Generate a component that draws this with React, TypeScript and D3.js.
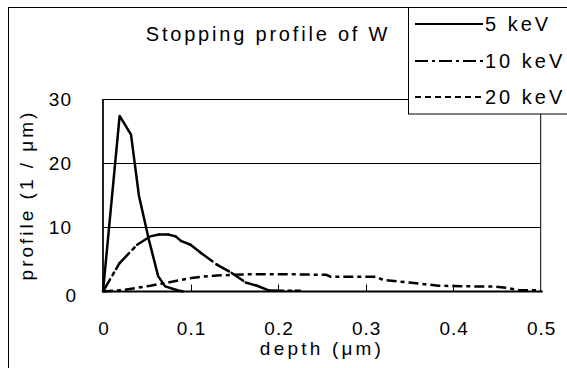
import React, { useRef, useEffect } from 'react';
import * as d3 from 'd3';

type Pt = [number, number];

// depth (um), profile (1/um)
const kev5: Pt[] = [
  [0, 0], [0.019, 27.4], [0.032, 24.5], [0.041, 15], [0.052, 8.3],
  [0.063, 2.4], [0.071, 0.8], [0.086, 0.15], [0.092, 0],
];
const kev10: Pt[] = [
  [0, 0], [0.0187, 4.4], [0.039, 7.3], [0.054, 8.6], [0.064, 8.9],
  [0.0745, 8.9], [0.083, 8.6], [0.089, 7.9], [0.1, 7.3], [0.112, 6.0],
  [0.13, 4.2], [0.147, 2.9], [0.163, 1.4], [0.176, 0.9], [0.19, 0.15],
  [0.225, 0.1],
];
const kev20: Pt[] = [
  [0, 0], [0.022, 0.2], [0.054, 0.9], [0.07, 1.3], [0.089, 1.8],
  [0.101, 2.1], [0.113, 2.3], [0.13, 2.5], [0.17, 2.7], [0.21, 2.7],
  [0.255, 2.6], [0.26, 2.3], [0.3, 2.3], [0.312, 2.3], [0.32, 1.8],
  [0.35, 1.4], [0.383, 0.9], [0.42, 0.8], [0.445, 0.8], [0.46, 0.6],
  [0.475, 0.2], [0.5, 0.2],
];

const xTicks = [0, 0.1, 0.2, 0.3, 0.4, 0.5];
const yTicks = [0, 10, 20, 30];
const legendItems = [
  { label: '5 keV', dash: 'none' },
  { label: '10 keV', dash: '13,4,3,4' },
  { label: '20 keV', dash: '6,4' },
];

const FONT = '"Liberation Sans", Arial, sans-serif';

export default function App() {
  const svgRef = useRef<SVGSVGElement>(null);
  const width = 567;
  const height = 368;

  useEffect(() => {
    if (!svgRef.current) return;
    const svg = d3.select(svgRef.current);
    svg.selectAll('*').remove();

    const x = d3.scaleLinear().domain([0, 0.5]).range([103, 540.7]);
    const y = d3.scaleLinear().domain([0, 30]).range([291.5, 99.3]);

    // outer frame
    svg.append('rect')
      .attr('x', 8.5).attr('y', 7.5).attr('width', 700).attr('height', 500)
      .attr('fill', '#fff').attr('stroke', '#000').attr('stroke-width', 1);

    // gridlines
    yTicks.filter(t => t > 0 && t < 30).forEach(t => {
      svg.append('line')
        .attr('x1', x(0)).attr('x2', x(0.5))
        .attr('y1', Math.round(y(t)) + 0.5).attr('y2', Math.round(y(t)) + 0.5)
        .attr('stroke', '#000').attr('stroke-width', 1);
    });

    // plot border
    svg.append('rect')
      .attr('x', x(0)).attr('y', Math.round(y(30)) + 0.5)
      .attr('width', x(0.5) - x(0)).attr('height', y(0) - Math.round(y(30)) - 0.5)
      .attr('fill', 'none').attr('stroke', '#000').attr('stroke-width', 1);

    // x axis line + inside ticks
    svg.append('line')
      .attr('x1', x(0)).attr('x2', x(0.5) + 2)
      .attr('y1', y(0)).attr('y2', y(0))
      .attr('stroke', '#000').attr('stroke-width', 2);
    svg.append('line')
      .attr('x1', x(0)).attr('x2', x(0))
      .attr('y1', y(30)).attr('y2', y(0))
      .attr('stroke', '#000').attr('stroke-width', 1.5);
    xTicks.filter(t => t > 0 && t < 0.5).forEach(t => {
      svg.append('line')
        .attr('x1', Math.round(x(t)) + 0.5).attr('x2', Math.round(x(t)) + 0.5)
        .attr('y1', y(0)).attr('y2', y(0) - 7)
        .attr('stroke', '#000').attr('stroke-width', 1);
    });

    const line = d3.line<Pt>().x(d => x(d[0])).y(d => y(d[1]));

    // 20 keV
    svg.append('path').datum(kev20)
      .attr('d', line).attr('fill', 'none').attr('stroke', '#000')
      .attr('stroke-width', 2.5).attr('stroke-dasharray', '10,4,4,4');

    // 10 keV: dash pattern restarts on each segment, so short ones look solid
    d3.pairs(kev10).forEach(seg => {
      svg.append('path').datum(seg)
        .attr('d', line).attr('fill', 'none').attr('stroke', '#000')
        .attr('stroke-width', 2.5).attr('stroke-linecap', 'round')
        .attr('stroke-dasharray', '14,5,3,4,40');
    });

    // 5 keV
    svg.append('path').datum(kev5)
      .attr('d', line).attr('fill', 'none').attr('stroke', '#000')
      .attr('stroke-width', 2.5).attr('stroke-linejoin', 'round');

    // tick labels
    yTicks.forEach(t => {
      svg.append('text')
        .attr('x', t === 0 ? 77 : 72).attr('y', y(t) + 7 + (t === 0 ? 3 : 0))
        .attr('text-anchor', 'end')
        .attr('font-family', FONT).attr('font-size', 19)
        .attr('letter-spacing', 1)
        .text(String(t));
    });
    xTicks.forEach(t => {
      svg.append('text')
        .attr('x', x(t) + 1).attr('y', 335)
        .attr('text-anchor', 'middle')
        .attr('font-family', FONT).attr('font-size', 19)
        .attr('letter-spacing', 1)
        .text(String(t));
    });

    // axis titles
    svg.append('text')
      .attr('x', 322).attr('y', 355)
      .attr('text-anchor', 'middle')
      .attr('font-family', FONT).attr('font-size', 19)
      .attr('letter-spacing', 3.2)
      .text('depth (μm)');
    svg.append('text')
      .attr('transform', 'translate(33,195) rotate(-90)')
      .attr('text-anchor', 'middle')
      .attr('font-family', FONT).attr('font-size', 19)
      .attr('letter-spacing', 3)
      .text('profile (1 / μm)');

    // title
    svg.append('text')
      .attr('x', 268).attr('y', 41)
      .attr('text-anchor', 'middle')
      .attr('font-family', FONT).attr('font-size', 20)
      .attr('letter-spacing', 2.8)
      .text('Stopping profile of W');

    // legend
    const lg = svg.append('g');
    lg.append('rect')
      .attr('x', 408.5).attr('y', 7.5).attr('width', 300).attr('height', 106.5)
      .attr('fill', '#fff').attr('stroke', '#000').attr('stroke-width', 1);
    const rowY = [24, 61, 97];
    legendItems.forEach((d, i) => {
      lg.append('line')
        .attr('x1', 415).attr('x2', 483)
        .attr('y1', rowY[i]).attr('y2', rowY[i])
        .attr('stroke', '#000').attr('stroke-width', 2)
        .attr('stroke-dasharray', d.dash);
      lg.append('text')
        .attr('x', 485).attr('y', rowY[i] + 7)
        .attr('font-family', FONT).attr('font-size', 20)
        .attr('letter-spacing', 3)
        .text(d.label);
    });
  }, []);

  return (
    <div style={{ position: 'fixed', left: 0, top: 0 }}>
      <svg ref={svgRef} width={width} height={height} style={{ display: 'block', background: '#fff' }} />
    </div>
  );
}
